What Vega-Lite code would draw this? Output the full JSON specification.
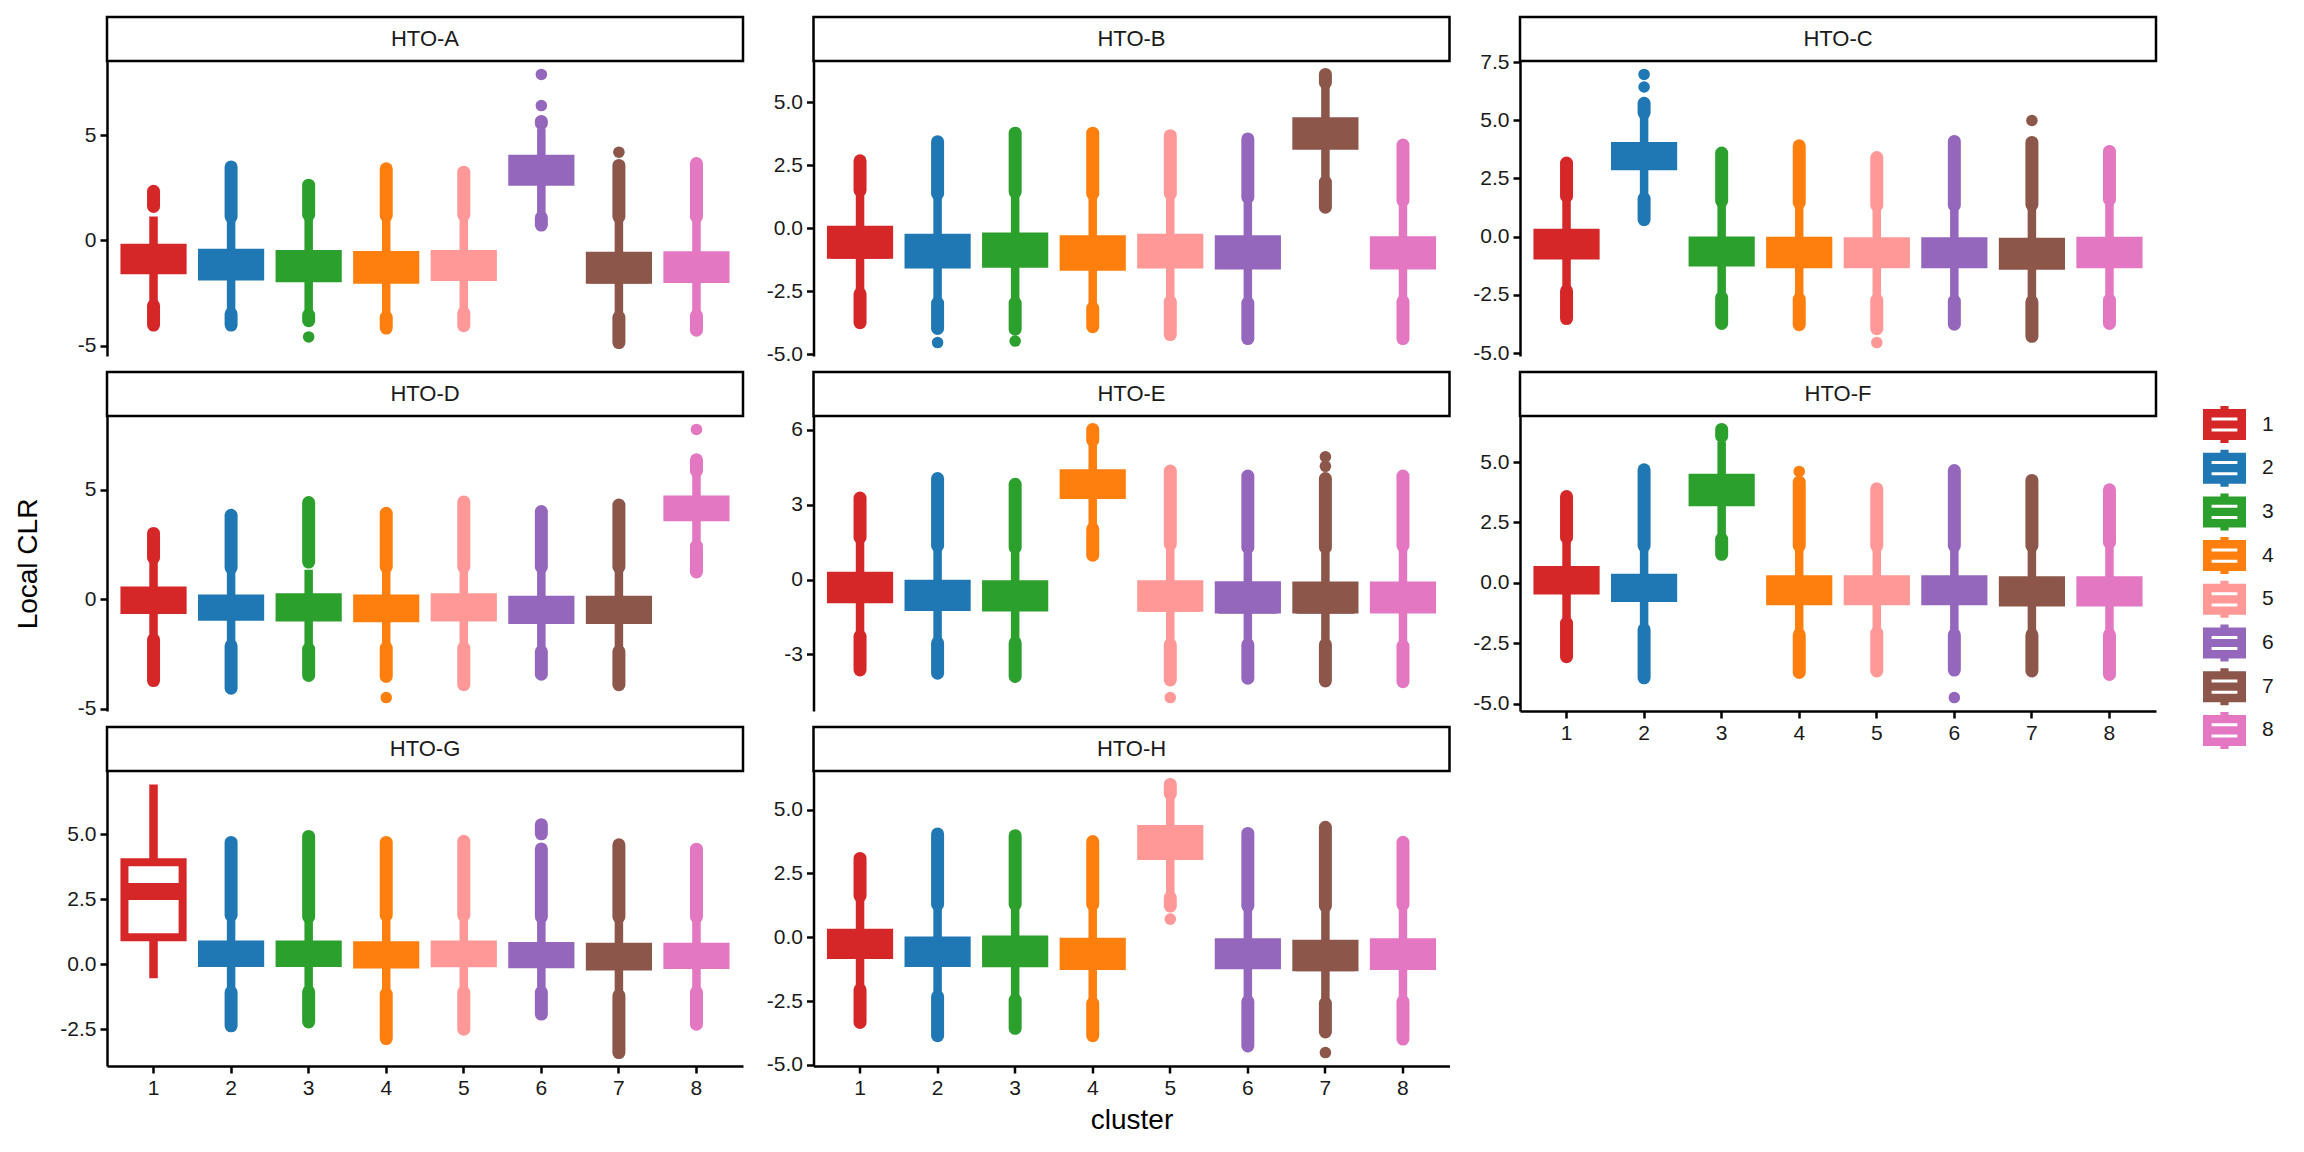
{
"$schema":"https://vega.github.io/schema/vega-lite/v6.json",
"padding":{"left":14,"top":15,"right":5,"bottom":5},
"background":"white",
"config":{
 "view":{"stroke":null},
 "font":"Liberation Sans",
 "axis":{"domainColor":"black","domainWidth":2.5,"tickColor":"black","tickWidth":2.5,"tickSize":7,"labelFontSize":21,"labelColor":"#1a1a1a","labelPadding":4,"grid":false,"titleFontSize":28,"titleFontWeight":"normal","titleColor":"black","labelFont":"Liberation Sans","titleFont":"Liberation Sans"},
 "legend":{"symbolType":"M-1,-0.72L-0.19,-0.72L-0.19,-0.86L0.19,-0.86L0.19,-0.72L1,-0.72L1,0.72L0.19,0.72L0.19,0.86L-0.19,0.86L-0.19,0.72L-1,0.72ZM-0.6,-0.33L-0.6,-0.19L0.6,-0.19L0.6,-0.33ZM-0.6,0.19L-0.6,0.33L0.6,0.33L0.6,0.19Z","symbolSize":1849,"symbolStrokeWidth":0,"symbolOpacity":1,"labelFontSize":21,"labelFont":"Liberation Sans","labelColor":"#1a1a1a","labelOffset":16,"rowPadding":3.7,"padding":0}
},
"datasets":{
"boxes":[
{"hto":"HTO-A","cluster":"1","lo":-2.95,"q1":-1.42,"med":-0.9,"q3":-0.35,"hi":1.13},
{"hto":"HTO-A","cluster":"2","lo":-3.35,"q1":-1.71,"med":-1.15,"q3":-0.59,"hi":1.05},
{"hto":"HTO-A","cluster":"3","lo":-3.4,"q1":-1.79,"med":-1.53,"q3":-0.64,"hi":1.0},
{"hto":"HTO-A","cluster":"4","lo":-3.5,"q1":-1.87,"med":-1.61,"q3":-0.69,"hi":1.0},
{"hto":"HTO-A","cluster":"5","lo":-3.3,"q1":-1.74,"med":-1.5,"q3":-0.64,"hi":1.0},
{"hto":"HTO-A","cluster":"6","lo":1.2,"q1":2.79,"med":3.3,"q3":3.88,"hi":5.3},
{"hto":"HTO-A","cluster":"7","lo":-3.5,"q1":-1.87,"med":-1.64,"q3":-0.73,"hi":1.0},
{"hto":"HTO-A","cluster":"8","lo":-3.45,"q1":-1.83,"med":-1.3,"q3":-0.7,"hi":1.0},
{"hto":"HTO-B","cluster":"1","lo":-2.5,"q1":-1.04,"med":-0.87,"q3":-0.05,"hi":1.4},
{"hto":"HTO-B","cluster":"2","lo":-2.85,"q1":-1.43,"med":-1.2,"q3":-0.37,"hi":1.25},
{"hto":"HTO-B","cluster":"3","lo":-2.85,"q1":-1.4,"med":-1.17,"q3":-0.32,"hi":1.3},
{"hto":"HTO-B","cluster":"4","lo":-3.05,"q1":-1.52,"med":-1.28,"q3":-0.43,"hi":1.25},
{"hto":"HTO-B","cluster":"5","lo":-2.8,"q1":-1.43,"med":-1.2,"q3":-0.37,"hi":1.25},
{"hto":"HTO-B","cluster":"6","lo":-2.85,"q1":-1.47,"med":-1.26,"q3":-0.43,"hi":1.1},
{"hto":"HTO-B","cluster":"7","lo":1.95,"q1":3.28,"med":3.8,"q3":4.25,"hi":5.65},
{"hto":"HTO-B","cluster":"8","lo":-2.8,"q1":-1.47,"med":-1.26,"q3":-0.47,"hi":1.0},
{"hto":"HTO-C","cluster":"1","lo":-2.2,"q1":-0.81,"med":-0.4,"q3":0.17,"hi":1.6},
{"hto":"HTO-C","cluster":"2","lo":1.8,"q1":3.03,"med":3.45,"q3":3.89,"hi":5.15},
{"hto":"HTO-C","cluster":"3","lo":-2.5,"q1":-1.11,"med":-0.65,"q3":-0.16,"hi":1.4},
{"hto":"HTO-C","cluster":"4","lo":-2.55,"q1":-1.18,"med":-0.7,"q3":-0.17,"hi":1.35},
{"hto":"HTO-C","cluster":"5","lo":-2.6,"q1":-1.18,"med":-0.7,"q3":-0.2,"hi":1.25},
{"hto":"HTO-C","cluster":"6","lo":-2.65,"q1":-1.18,"med":-0.7,"q3":-0.2,"hi":1.25},
{"hto":"HTO-C","cluster":"7","lo":-2.7,"q1":-1.25,"med":-0.75,"q3":-0.22,"hi":1.25},
{"hto":"HTO-C","cluster":"8","lo":-2.6,"q1":-1.18,"med":-0.7,"q3":-0.17,"hi":1.5},
{"hto":"HTO-D","cluster":"1","lo":-1.75,"q1":-0.49,"med":-0.05,"q3":0.4,"hi":1.8},
{"hto":"HTO-D","cluster":"2","lo":-2.05,"q1":-0.8,"med":-0.4,"q3":0.03,"hi":1.3},
{"hto":"HTO-D","cluster":"3","lo":-2.2,"q1":-0.83,"med":-0.4,"q3":0.09,"hi":1.35},
{"hto":"HTO-D","cluster":"4","lo":-2.15,"q1":-0.87,"med":-0.45,"q3":0.03,"hi":1.35},
{"hto":"HTO-D","cluster":"5","lo":-2.15,"q1":-0.83,"med":-0.4,"q3":0.09,"hi":1.35},
{"hto":"HTO-D","cluster":"6","lo":-2.3,"q1":-0.95,"med":-0.5,"q3":-0.02,"hi":1.35},
{"hto":"HTO-D","cluster":"7","lo":-2.3,"q1":-0.95,"med":-0.5,"q3":-0.02,"hi":1.35},
{"hto":"HTO-D","cluster":"8","lo":2.55,"q1":3.75,"med":4.15,"q3":4.56,"hi":5.75},
{"hto":"HTO-E","cluster":"1","lo":-2.15,"q1":-0.79,"med":-0.3,"q3":0.15,"hi":1.55},
{"hto":"HTO-E","cluster":"2","lo":-2.45,"q1":-1.1,"med":-0.6,"q3":-0.17,"hi":1.25},
{"hto":"HTO-E","cluster":"3","lo":-2.45,"q1":-1.12,"med":-0.62,"q3":-0.19,"hi":1.2},
{"hto":"HTO-E","cluster":"4","lo":2.1,"q1":3.39,"med":3.8,"q3":4.26,"hi":5.5},
{"hto":"HTO-E","cluster":"5","lo":-2.5,"q1":-1.13,"med":-0.95,"q3":-0.19,"hi":1.3},
{"hto":"HTO-E","cluster":"6","lo":-2.5,"q1":-1.2,"med":-1.03,"q3":-0.23,"hi":1.2},
{"hto":"HTO-E","cluster":"7","lo":-2.5,"q1":-1.2,"med":-1.03,"q3":-0.24,"hi":1.2},
{"hto":"HTO-E","cluster":"8","lo":-2.55,"q1":-1.2,"med":-0.7,"q3":-0.24,"hi":1.25},
{"hto":"HTO-F","cluster":"1","lo":-1.55,"q1":-0.32,"med":0.1,"q3":0.53,"hi":1.75},
{"hto":"HTO-F","cluster":"2","lo":-1.85,"q1":-0.63,"med":-0.2,"q3":0.21,"hi":1.4},
{"hto":"HTO-F","cluster":"3","lo":1.9,"q1":3.33,"med":3.53,"q3":4.35,"hi":5.85},
{"hto":"HTO-F","cluster":"4","lo":-2.05,"q1":-0.76,"med":-0.3,"q3":0.15,"hi":1.4},
{"hto":"HTO-F","cluster":"5","lo":-2.0,"q1":-0.76,"med":-0.3,"q3":0.15,"hi":1.4},
{"hto":"HTO-F","cluster":"6","lo":-2.05,"q1":-0.76,"med":-0.3,"q3":0.15,"hi":1.4},
{"hto":"HTO-F","cluster":"7","lo":-2.05,"q1":-0.81,"med":-0.35,"q3":0.11,"hi":1.4},
{"hto":"HTO-F","cluster":"8","lo":-2.05,"q1":-0.81,"med":-0.35,"q3":0.11,"hi":1.55},
{"hto":"HTO-G","cluster":"1","lo":-0.54,"q1":1.03,"med":2.79,"q3":3.92,"hi":6.91},
{"hto":"HTO-G","cluster":"2","lo":-0.95,"q1":0.04,"med":0.4,"q3":0.76,"hi":1.75},
{"hto":"HTO-G","cluster":"3","lo":-0.95,"q1":0.04,"med":0.4,"q3":0.76,"hi":1.7},
{"hto":"HTO-G","cluster":"4","lo":-1.0,"q1":-0.01,"med":0.35,"q3":0.73,"hi":1.75},
{"hto":"HTO-G","cluster":"5","lo":-0.95,"q1":0.03,"med":0.4,"q3":0.76,"hi":1.75},
{"hto":"HTO-G","cluster":"6","lo":-0.95,"q1":0.0,"med":0.35,"q3":0.7,"hi":1.7},
{"hto":"HTO-G","cluster":"7","lo":-1.1,"q1":-0.09,"med":0.3,"q3":0.67,"hi":1.7},
{"hto":"HTO-G","cluster":"8","lo":-0.95,"q1":-0.03,"med":0.33,"q3":0.67,"hi":1.7},
{"hto":"HTO-H","cluster":"1","lo":-1.95,"q1":-0.7,"med":-0.25,"q3":0.18,"hi":1.5},
{"hto":"HTO-H","cluster":"2","lo":-2.2,"q1":-1.01,"med":-0.55,"q3":-0.13,"hi":1.2},
{"hto":"HTO-H","cluster":"3","lo":-2.35,"q1":-1.02,"med":-0.55,"q3":-0.09,"hi":1.2},
{"hto":"HTO-H","cluster":"4","lo":-2.45,"q1":-1.13,"med":-0.95,"q3":-0.18,"hi":1.2},
{"hto":"HTO-H","cluster":"5","lo":1.65,"q1":3.18,"med":4.05,"q3":4.24,"hi":5.5},
{"hto":"HTO-H","cluster":"6","lo":-2.4,"q1":-1.1,"med":-0.65,"q3":-0.2,"hi":1.1},
{"hto":"HTO-H","cluster":"7","lo":-2.45,"q1":-1.18,"med":-1.0,"q3":-0.25,"hi":1.1},
{"hto":"HTO-H","cluster":"8","lo":-2.4,"q1":-1.13,"med":-0.92,"q3":-0.2,"hi":1.2}
],
"streaks":[
{"hto":"HTO-A","cluster":"1","from":1.61,"to":2.33},{"hto":"HTO-A","cluster":"1","from":-3.09,"to":-4.02},
{"hto":"HTO-A","cluster":"2","from":1.13,"to":3.49},{"hto":"HTO-A","cluster":"2","from":-3.49,"to":-4.02},
{"hto":"HTO-A","cluster":"3","from":1.21,"to":2.62},{"hto":"HTO-A","cluster":"3","from":-3.54,"to":-3.81},
{"hto":"HTO-A","cluster":"4","from":1.18,"to":3.4},{"hto":"HTO-A","cluster":"4","from":-3.65,"to":-4.16},
{"hto":"HTO-A","cluster":"5","from":1.21,"to":3.24},{"hto":"HTO-A","cluster":"5","from":-3.44,"to":-4.05},
{"hto":"HTO-A","cluster":"6","from":5.55,"to":5.65},{"hto":"HTO-A","cluster":"6","from":1.08,"to":0.73},
{"hto":"HTO-A","cluster":"7","from":1.13,"to":3.56},{"hto":"HTO-A","cluster":"7","from":-3.65,"to":-4.85},
{"hto":"HTO-A","cluster":"8","from":1.13,"to":3.65},{"hto":"HTO-A","cluster":"8","from":-3.57,"to":-4.26},
{"hto":"HTO-B","cluster":"1","from":1.51,"to":2.68},{"hto":"HTO-B","cluster":"1","from":-2.6,"to":-3.74},
{"hto":"HTO-B","cluster":"2","from":1.38,"to":3.44},{"hto":"HTO-B","cluster":"2","from":-2.96,"to":-3.97},
{"hto":"HTO-B","cluster":"3","from":1.44,"to":3.78},{"hto":"HTO-B","cluster":"3","from":-2.96,"to":-4.0},
{"hto":"HTO-B","cluster":"4","from":1.38,"to":3.78},{"hto":"HTO-B","cluster":"4","from":-3.16,"to":-3.9},
{"hto":"HTO-B","cluster":"5","from":1.38,"to":3.68},{"hto":"HTO-B","cluster":"5","from":-2.9,"to":-4.21},
{"hto":"HTO-B","cluster":"6","from":1.24,"to":3.55},{"hto":"HTO-B","cluster":"6","from":-2.96,"to":-4.37},
{"hto":"HTO-B","cluster":"7","from":5.78,"to":6.11},{"hto":"HTO-B","cluster":"7","from":1.84,"to":0.84},
{"hto":"HTO-B","cluster":"8","from":1.11,"to":3.31},{"hto":"HTO-B","cluster":"8","from":-2.9,"to":-4.37},
{"hto":"HTO-C","cluster":"1","from":1.74,"to":3.16},{"hto":"HTO-C","cluster":"1","from":-2.33,"to":-3.52},
{"hto":"HTO-C","cluster":"2","from":5.32,"to":5.73},{"hto":"HTO-C","cluster":"2","from":1.64,"to":0.73},
{"hto":"HTO-C","cluster":"3","from":1.53,"to":3.59},{"hto":"HTO-C","cluster":"3","from":-2.62,"to":-3.73},
{"hto":"HTO-C","cluster":"4","from":1.46,"to":3.9},{"hto":"HTO-C","cluster":"4","from":-2.68,"to":-3.78},
{"hto":"HTO-C","cluster":"5","from":1.35,"to":3.4},{"hto":"HTO-C","cluster":"5","from":-2.72,"to":-3.95},
{"hto":"HTO-C","cluster":"6","from":1.35,"to":4.09},{"hto":"HTO-C","cluster":"6","from":-2.77,"to":-3.76},
{"hto":"HTO-C","cluster":"7","from":1.38,"to":4.05},{"hto":"HTO-C","cluster":"7","from":-2.8,"to":-4.28},
{"hto":"HTO-C","cluster":"8","from":1.6,"to":3.66},{"hto":"HTO-C","cluster":"8","from":-2.72,"to":-3.73},
{"hto":"HTO-D","cluster":"1","from":1.9,"to":3.01},{"hto":"HTO-D","cluster":"1","from":-1.85,"to":-3.72},
{"hto":"HTO-D","cluster":"2","from":1.44,"to":3.84},{"hto":"HTO-D","cluster":"2","from":-2.13,"to":-4.07},
{"hto":"HTO-D","cluster":"3","from":1.7,"to":4.42},{"hto":"HTO-D","cluster":"3","from":-2.28,"to":-3.49},
{"hto":"HTO-D","cluster":"4","from":1.48,"to":3.93},{"hto":"HTO-D","cluster":"4","from":-2.23,"to":-3.53},
{"hto":"HTO-D","cluster":"5","from":1.48,"to":4.45},{"hto":"HTO-D","cluster":"5","from":-2.23,"to":-3.91},
{"hto":"HTO-D","cluster":"6","from":1.48,"to":4.01},{"hto":"HTO-D","cluster":"6","from":-2.39,"to":-3.43},
{"hto":"HTO-D","cluster":"7","from":1.48,"to":4.31},{"hto":"HTO-D","cluster":"7","from":-2.39,"to":-3.91},
{"hto":"HTO-D","cluster":"8","from":5.87,"to":6.38},{"hto":"HTO-D","cluster":"8","from":2.43,"to":1.25},
{"hto":"HTO-E","cluster":"1","from":1.69,"to":3.27},{"hto":"HTO-E","cluster":"1","from":-2.27,"to":-3.62},
{"hto":"HTO-E","cluster":"2","from":1.36,"to":4.05},{"hto":"HTO-E","cluster":"2","from":-2.54,"to":-3.75},
{"hto":"HTO-E","cluster":"3","from":1.29,"to":3.82},{"hto":"HTO-E","cluster":"3","from":-2.54,"to":-3.88},
{"hto":"HTO-E","cluster":"4","from":5.59,"to":6.02},{"hto":"HTO-E","cluster":"4","from":2.03,"to":0.98},
{"hto":"HTO-E","cluster":"5","from":1.42,"to":4.35},{"hto":"HTO-E","cluster":"5","from":-2.61,"to":-4.02},
{"hto":"HTO-E","cluster":"6","from":1.29,"to":4.15},{"hto":"HTO-E","cluster":"6","from":-2.61,"to":-3.95},
{"hto":"HTO-E","cluster":"7","from":1.29,"to":4.05},{"hto":"HTO-E","cluster":"7","from":-2.61,"to":-4.06},
{"hto":"HTO-E","cluster":"8","from":1.36,"to":4.15},{"hto":"HTO-E","cluster":"8","from":-2.67,"to":-4.09},
{"hto":"HTO-F","cluster":"1","from":1.88,"to":3.57},{"hto":"HTO-F","cluster":"1","from":-1.67,"to":-3.06},
{"hto":"HTO-F","cluster":"2","from":1.53,"to":4.68},{"hto":"HTO-F","cluster":"2","from":-1.94,"to":-3.93},
{"hto":"HTO-F","cluster":"3","from":6.07,"to":6.35},{"hto":"HTO-F","cluster":"3","from":1.81,"to":1.18},
{"hto":"HTO-F","cluster":"4","from":1.53,"to":4.17},{"hto":"HTO-F","cluster":"4","from":-2.15,"to":-3.71},
{"hto":"HTO-F","cluster":"5","from":1.53,"to":3.89},{"hto":"HTO-F","cluster":"5","from":-2.08,"to":-3.65},
{"hto":"HTO-F","cluster":"6","from":1.53,"to":4.65},{"hto":"HTO-F","cluster":"6","from":-2.15,"to":-3.61},
{"hto":"HTO-F","cluster":"7","from":1.53,"to":4.24},{"hto":"HTO-F","cluster":"7","from":-2.15,"to":-3.65},
{"hto":"HTO-F","cluster":"8","from":1.67,"to":3.85},{"hto":"HTO-F","cluster":"8","from":-2.15,"to":-3.79},
{"hto":"HTO-G","cluster":"2","from":1.88,"to":4.68},{"hto":"HTO-G","cluster":"2","from":-1.08,"to":-2.37},
{"hto":"HTO-G","cluster":"3","from":1.82,"to":4.91},{"hto":"HTO-G","cluster":"3","from":-1.06,"to":-2.22},
{"hto":"HTO-G","cluster":"4","from":1.88,"to":4.68},{"hto":"HTO-G","cluster":"4","from":-1.15,"to":-2.86},
{"hto":"HTO-G","cluster":"5","from":1.88,"to":4.72},{"hto":"HTO-G","cluster":"5","from":-1.08,"to":-2.5},
{"hto":"HTO-G","cluster":"6","from":1.82,"to":4.43},{"hto":"HTO-G","cluster":"6","from":5.01,"to":5.36},{"hto":"HTO-G","cluster":"6","from":-1.08,"to":-1.92},
{"hto":"HTO-G","cluster":"7","from":1.82,"to":4.59},{"hto":"HTO-G","cluster":"7","from":-1.21,"to":-3.4},
{"hto":"HTO-G","cluster":"8","from":1.82,"to":4.42},{"hto":"HTO-G","cluster":"8","from":-1.08,"to":-2.31},
{"hto":"HTO-H","cluster":"1","from":1.62,"to":3.09},{"hto":"HTO-H","cluster":"1","from":-2.06,"to":-3.34},
{"hto":"HTO-H","cluster":"2","from":1.29,"to":4.05},{"hto":"HTO-H","cluster":"2","from":-2.33,"to":-3.86},
{"hto":"HTO-H","cluster":"3","from":1.29,"to":3.98},{"hto":"HTO-H","cluster":"3","from":-2.46,"to":-3.57},
{"hto":"HTO-H","cluster":"4","from":1.29,"to":3.75},{"hto":"HTO-H","cluster":"4","from":-2.59,"to":-3.86},
{"hto":"HTO-H","cluster":"5","from":5.62,"to":5.99},{"hto":"HTO-H","cluster":"5","from":1.55,"to":1.22},
{"hto":"HTO-H","cluster":"6","from":1.22,"to":4.07},{"hto":"HTO-H","cluster":"6","from":-2.52,"to":-4.26},
{"hto":"HTO-H","cluster":"7","from":1.22,"to":4.31},{"hto":"HTO-H","cluster":"7","from":-2.59,"to":-3.71},
{"hto":"HTO-H","cluster":"8","from":1.29,"to":3.72},{"hto":"HTO-H","cluster":"8","from":-2.52,"to":-3.99}
],
"points":[
{"hto":"HTO-A","cluster":"3","value":-4.58},{"hto":"HTO-A","cluster":"6","value":6.4},{"hto":"HTO-A","cluster":"6","value":7.88},{"hto":"HTO-A","cluster":"7","value":4.19},
{"hto":"HTO-B","cluster":"2","value":-4.53},{"hto":"HTO-B","cluster":"3","value":-4.47},
{"hto":"HTO-C","cluster":"2","value":6.43},{"hto":"HTO-C","cluster":"2","value":6.97},{"hto":"HTO-C","cluster":"5","value":-4.55},{"hto":"HTO-C","cluster":"7","value":4.99},
{"hto":"HTO-D","cluster":"4","value":-4.5},{"hto":"HTO-D","cluster":"8","value":7.77},
{"hto":"HTO-E","cluster":"5","value":-4.73},{"hto":"HTO-E","cluster":"7","value":4.54},{"hto":"HTO-E","cluster":"7","value":4.92},
{"hto":"HTO-F","cluster":"4","value":4.61},{"hto":"HTO-F","cluster":"6","value":-4.75},
{"hto":"HTO-H","cluster":"5","value":0.71},{"hto":"HTO-H","cluster":"7","value":-4.52}
]
},
"columns":3,
"align":"each",
"bounds":"flush",
"spacing":{"row":0,"column":70.5},
"concat":[
  {"width":636,"height":44,"view":{"stroke":"black","strokeWidth":2.5,"fill":"white"},"data":{"values":[{"label":"HTO-A"}]},"mark":{"type":"text","fontSize":22,"color":"#1a1a1a","font":"Liberation Sans"},"encoding":{"text":{"field":"label","type":"nominal"}}},
  {"width":636,"height":44,"view":{"stroke":"black","strokeWidth":2.5,"fill":"white"},"data":{"values":[{"label":"HTO-B"}]},"mark":{"type":"text","fontSize":22,"color":"#1a1a1a","font":"Liberation Sans"},"encoding":{"text":{"field":"label","type":"nominal"}}},
  {"width":636,"height":44,"view":{"stroke":"black","strokeWidth":2.5,"fill":"white"},"data":{"values":[{"label":"HTO-C"}]},"mark":{"type":"text","fontSize":22,"color":"#1a1a1a","font":"Liberation Sans"},"encoding":{"text":{"field":"label","type":"nominal"}}},
  {"width":636,"height":295,
   "encoding":{"x":{"field":"cluster","type":"nominal","scale":{"type":"band","domain":["1","2","3","4","5","6","7","8"],"paddingInner":0,"paddingOuter":0.1},"axis":null}},
   "layer":[
    {"data":{"name":"boxes"},"transform":[{"filter":"datum.hto==='HTO-A'"}],"mark":{"type":"rule","strokeWidth":8.5},"encoding":{"y":{"field":"lo","type":"quantitative","scale":{"zero":false,"nice":false,"padding":13.4},"axis":{"title":null,"values":[-5,0,5],"labelExpr":"replace(format(datum.value,'d'),'\u2212','-')"}},"y2":{"field":"hi"},"stroke":{"field":"cluster","type":"nominal","scale":{"range":["#d62728","#1f77b4","#2ca02c","#ff7f0e","#ff9896","#9467bd","#8c564b","#e377c2"]},"legend":null}}},
    {"data":{"name":"streaks"},"transform":[{"filter":"datum.hto==='HTO-A'"}],"mark":{"type":"rule","strokeWidth":13,"strokeCap":"round"},"encoding":{"y":{"field":"from","type":"quantitative"},"y2":{"field":"to"},"stroke":{"field":"cluster","type":"nominal","legend":null}}},
    {"data":{"name":"points"},"transform":[{"filter":"datum.hto==='HTO-A'"}],"mark":{"type":"circle","size":133,"opacity":1},"encoding":{"y":{"field":"value","type":"quantitative"},"color":{"field":"cluster","type":"nominal","scale":{"domain":["1","2","3","4","5","6","7","8"],"range":["#d62728","#1f77b4","#2ca02c","#ff7f0e","#ff9896","#9467bd","#8c564b","#e377c2"]},"legend":{"title":null,"orient":"none","legendX":2096,"legendY":386}}}},
    {"data":{"name":"boxes"},"transform":[{"filter":"datum.hto==='HTO-A'"}],"mark":{"type":"bar","width":{"band":0.75},"strokeWidth":8,"strokeJoin":"miter"},"encoding":{"y":{"field":"q1","type":"quantitative"},"y2":{"field":"q3"},"fill":{"field":"cluster","type":"nominal","scale":{"range":["#d62728","#1f77b4","#2ca02c","#ff7f0e","#ff9896","#9467bd","#8c564b","#e377c2"]},"legend":null},"stroke":{"field":"cluster","type":"nominal","legend":null}}},
    {"data":{"name":"boxes"},"transform":[{"filter":"datum.hto==='HTO-A'"}],"mark":{"type":"tick","thickness":17,"size":58,"opacity":1,"orient":"horizontal","filled":true},"encoding":{"y":{"field":"med","type":"quantitative"},"fill":{"field":"cluster","type":"nominal","legend":null}}}
   ]},
  {"width":636,"height":295,
   "encoding":{"x":{"field":"cluster","type":"nominal","scale":{"type":"band","domain":["1","2","3","4","5","6","7","8"],"paddingInner":0,"paddingOuter":0.1},"axis":null}},
   "layer":[
    {"data":{"name":"boxes"},"transform":[{"filter":"datum.hto==='HTO-B'"}],"mark":{"type":"rule","strokeWidth":8.5},"encoding":{"y":{"field":"lo","type":"quantitative","scale":{"zero":false,"nice":false,"padding":13.4},"axis":{"title":null,"values":[-5,-2.5,0,2.5,5],"labelExpr":"replace(format(datum.value,'.1f'),'\u2212','-')"}},"y2":{"field":"hi"},"stroke":{"field":"cluster","type":"nominal","legend":null}}},
    {"data":{"name":"streaks"},"transform":[{"filter":"datum.hto==='HTO-B'"}],"mark":{"type":"rule","strokeWidth":13,"strokeCap":"round"},"encoding":{"y":{"field":"from","type":"quantitative"},"y2":{"field":"to"},"stroke":{"field":"cluster","type":"nominal","legend":null}}},
    {"data":{"name":"points"},"transform":[{"filter":"datum.hto==='HTO-B'"}],"mark":{"type":"circle","size":133,"opacity":1},"encoding":{"y":{"field":"value","type":"quantitative"},"color":{"field":"cluster","type":"nominal","legend":{"title":null,"orient":"none","legendX":2096,"legendY":386}}}},
    {"data":{"name":"boxes"},"transform":[{"filter":"datum.hto==='HTO-B'"}],"mark":{"type":"bar","width":{"band":0.75},"strokeWidth":8,"strokeJoin":"miter"},"encoding":{"y":{"field":"q1","type":"quantitative"},"y2":{"field":"q3"},"fill":{"field":"cluster","type":"nominal","legend":null},"stroke":{"field":"cluster","type":"nominal","legend":null}}},
    {"data":{"name":"boxes"},"transform":[{"filter":"datum.hto==='HTO-B'"}],"mark":{"type":"tick","thickness":17,"size":58,"opacity":1,"orient":"horizontal","filled":true},"encoding":{"y":{"field":"med","type":"quantitative"},"fill":{"field":"cluster","type":"nominal","legend":null}}}
   ]},
  {"width":636,"height":295,
   "encoding":{"x":{"field":"cluster","type":"nominal","scale":{"type":"band","domain":["1","2","3","4","5","6","7","8"],"paddingInner":0,"paddingOuter":0.1},"axis":null}},
   "layer":[
    {"data":{"name":"boxes"},"transform":[{"filter":"datum.hto==='HTO-C'"}],"mark":{"type":"rule","strokeWidth":8.5},"encoding":{"y":{"field":"lo","type":"quantitative","scale":{"zero":false,"nice":false,"padding":13.4},"axis":{"title":null,"values":[-5,-2.5,0,2.5,5,7.5],"labelExpr":"replace(format(datum.value,'.1f'),'\u2212','-')"}},"y2":{"field":"hi"},"stroke":{"field":"cluster","type":"nominal","legend":null}}},
    {"data":{"name":"streaks"},"transform":[{"filter":"datum.hto==='HTO-C'"}],"mark":{"type":"rule","strokeWidth":13,"strokeCap":"round"},"encoding":{"y":{"field":"from","type":"quantitative"},"y2":{"field":"to"},"stroke":{"field":"cluster","type":"nominal","legend":null}}},
    {"data":{"name":"points"},"transform":[{"filter":"datum.hto==='HTO-C'"}],"mark":{"type":"circle","size":133,"opacity":1},"encoding":{"y":{"field":"value","type":"quantitative"},"color":{"field":"cluster","type":"nominal","legend":{"title":null,"orient":"none","legendX":2096,"legendY":386}}}},
    {"data":{"name":"boxes"},"transform":[{"filter":"datum.hto==='HTO-C'"}],"mark":{"type":"bar","width":{"band":0.75},"strokeWidth":8,"strokeJoin":"miter"},"encoding":{"y":{"field":"q1","type":"quantitative"},"y2":{"field":"q3"},"fill":{"field":"cluster","type":"nominal","legend":null},"stroke":{"field":"cluster","type":"nominal","legend":null}}},
    {"data":{"name":"boxes"},"transform":[{"filter":"datum.hto==='HTO-C'"}],"mark":{"type":"tick","thickness":17,"size":58,"opacity":1,"orient":"horizontal","filled":true},"encoding":{"y":{"field":"med","type":"quantitative"},"fill":{"field":"cluster","type":"nominal","legend":null}}}
   ]},
  {"width":636,"height":16,"data":{"values":[{"t":""}]},"mark":{"type":"text"},"encoding":{"text":{"field":"t","type":"nominal"}}},
  {"width":636,"height":16,"data":{"values":[{"t":""}]},"mark":{"type":"text"},"encoding":{"text":{"field":"t","type":"nominal"}}},
  {"width":636,"height":16,"data":{"values":[{"t":""}]},"mark":{"type":"text"},"encoding":{"text":{"field":"t","type":"nominal"}}},
  {"width":636,"height":44,"view":{"stroke":"black","strokeWidth":2.5,"fill":"white"},"data":{"values":[{"label":"HTO-D"}]},"mark":{"type":"text","fontSize":22,"color":"#1a1a1a","font":"Liberation Sans"},"encoding":{"text":{"field":"label","type":"nominal"}}},
  {"width":636,"height":44,"view":{"stroke":"black","strokeWidth":2.5,"fill":"white"},"data":{"values":[{"label":"HTO-E"}]},"mark":{"type":"text","fontSize":22,"color":"#1a1a1a","font":"Liberation Sans"},"encoding":{"text":{"field":"label","type":"nominal"}}},
  {"width":636,"height":44,"view":{"stroke":"black","strokeWidth":2.5,"fill":"white"},"data":{"values":[{"label":"HTO-F"}]},"mark":{"type":"text","fontSize":22,"color":"#1a1a1a","font":"Liberation Sans"},"encoding":{"text":{"field":"label","type":"nominal"}}},
  {"width":636,"height":295,
   "encoding":{"x":{"field":"cluster","type":"nominal","scale":{"type":"band","domain":["1","2","3","4","5","6","7","8"],"paddingInner":0,"paddingOuter":0.1},"axis":null}},
   "layer":[
    {"data":{"name":"boxes"},"transform":[{"filter":"datum.hto==='HTO-D'"}],"mark":{"type":"rule","strokeWidth":8.5},"encoding":{"y":{"field":"lo","type":"quantitative","scale":{"zero":false,"nice":false,"padding":13.4},"axis":{"title":"Local CLR","titlePadding":35,"values":[-5,0,5],"labelExpr":"replace(format(datum.value,'d'),'\u2212','-')"}},"y2":{"field":"hi"},"stroke":{"field":"cluster","type":"nominal","legend":null}}},
    {"data":{"name":"streaks"},"transform":[{"filter":"datum.hto==='HTO-D'"}],"mark":{"type":"rule","strokeWidth":13,"strokeCap":"round"},"encoding":{"y":{"field":"from","type":"quantitative"},"y2":{"field":"to"},"stroke":{"field":"cluster","type":"nominal","legend":null}}},
    {"data":{"name":"points"},"transform":[{"filter":"datum.hto==='HTO-D'"}],"mark":{"type":"circle","size":133,"opacity":1},"encoding":{"y":{"field":"value","type":"quantitative"},"color":{"field":"cluster","type":"nominal","legend":{"title":null,"orient":"none","legendX":2096,"legendY":386}}}},
    {"data":{"name":"boxes"},"transform":[{"filter":"datum.hto==='HTO-D'"}],"mark":{"type":"bar","width":{"band":0.75},"strokeWidth":8,"strokeJoin":"miter"},"encoding":{"y":{"field":"q1","type":"quantitative"},"y2":{"field":"q3"},"fill":{"field":"cluster","type":"nominal","legend":null},"stroke":{"field":"cluster","type":"nominal","legend":null}}},
    {"data":{"name":"boxes"},"transform":[{"filter":"datum.hto==='HTO-D'"}],"mark":{"type":"tick","thickness":17,"size":58,"opacity":1,"orient":"horizontal","filled":true},"encoding":{"y":{"field":"med","type":"quantitative"},"fill":{"field":"cluster","type":"nominal","legend":null}}}
   ]},
  {"width":636,"height":295,
   "encoding":{"x":{"field":"cluster","type":"nominal","scale":{"type":"band","domain":["1","2","3","4","5","6","7","8"],"paddingInner":0,"paddingOuter":0.1},"axis":null}},
   "layer":[
    {"data":{"name":"boxes"},"transform":[{"filter":"datum.hto==='HTO-E'"}],"mark":{"type":"rule","strokeWidth":8.5},"encoding":{"y":{"field":"lo","type":"quantitative","scale":{"zero":false,"nice":false,"padding":13.4},"axis":{"title":null,"values":[-3,0,3,6],"labelExpr":"replace(format(datum.value,'d'),'\u2212','-')"}},"y2":{"field":"hi"},"stroke":{"field":"cluster","type":"nominal","legend":null}}},
    {"data":{"name":"streaks"},"transform":[{"filter":"datum.hto==='HTO-E'"}],"mark":{"type":"rule","strokeWidth":13,"strokeCap":"round"},"encoding":{"y":{"field":"from","type":"quantitative"},"y2":{"field":"to"},"stroke":{"field":"cluster","type":"nominal","legend":null}}},
    {"data":{"name":"points"},"transform":[{"filter":"datum.hto==='HTO-E'"}],"mark":{"type":"circle","size":133,"opacity":1},"encoding":{"y":{"field":"value","type":"quantitative"},"color":{"field":"cluster","type":"nominal","legend":{"title":null,"orient":"none","legendX":2096,"legendY":386}}}},
    {"data":{"name":"boxes"},"transform":[{"filter":"datum.hto==='HTO-E'"}],"mark":{"type":"bar","width":{"band":0.75},"strokeWidth":8,"strokeJoin":"miter"},"encoding":{"y":{"field":"q1","type":"quantitative"},"y2":{"field":"q3"},"fill":{"field":"cluster","type":"nominal","legend":null},"stroke":{"field":"cluster","type":"nominal","legend":null}}},
    {"data":{"name":"boxes"},"transform":[{"filter":"datum.hto==='HTO-E'"}],"mark":{"type":"tick","thickness":17,"size":58,"opacity":1,"orient":"horizontal","filled":true},"encoding":{"y":{"field":"med","type":"quantitative"},"fill":{"field":"cluster","type":"nominal","legend":null}}}
   ]},
  {"width":636,"height":295,
   "encoding":{"x":{"field":"cluster","type":"nominal","scale":{"type":"band","domain":["1","2","3","4","5","6","7","8"],"paddingInner":0,"paddingOuter":0.1},"axis":{"title":null,"labelAngle":0}}},
   "layer":[
    {"data":{"name":"boxes"},"transform":[{"filter":"datum.hto==='HTO-F'"}],"mark":{"type":"rule","strokeWidth":8.5},"encoding":{"y":{"field":"lo","type":"quantitative","scale":{"zero":false,"nice":false,"padding":13.4},"axis":{"title":null,"values":[-5,-2.5,0,2.5,5],"labelExpr":"replace(format(datum.value,'.1f'),'\u2212','-')"}},"y2":{"field":"hi"},"stroke":{"field":"cluster","type":"nominal","legend":null}}},
    {"data":{"name":"streaks"},"transform":[{"filter":"datum.hto==='HTO-F'"}],"mark":{"type":"rule","strokeWidth":13,"strokeCap":"round"},"encoding":{"y":{"field":"from","type":"quantitative"},"y2":{"field":"to"},"stroke":{"field":"cluster","type":"nominal","legend":null}}},
    {"data":{"name":"points"},"transform":[{"filter":"datum.hto==='HTO-F'"}],"mark":{"type":"circle","size":133,"opacity":1},"encoding":{"y":{"field":"value","type":"quantitative"},"color":{"field":"cluster","type":"nominal","legend":{"title":null,"orient":"none","legendX":2096,"legendY":386}}}},
    {"data":{"name":"boxes"},"transform":[{"filter":"datum.hto==='HTO-F'"}],"mark":{"type":"bar","width":{"band":0.75},"strokeWidth":8,"strokeJoin":"miter"},"encoding":{"y":{"field":"q1","type":"quantitative"},"y2":{"field":"q3"},"fill":{"field":"cluster","type":"nominal","legend":null},"stroke":{"field":"cluster","type":"nominal","legend":null}}},
    {"data":{"name":"boxes"},"transform":[{"filter":"datum.hto==='HTO-F'"}],"mark":{"type":"tick","thickness":17,"size":58,"opacity":1,"orient":"horizontal","filled":true},"encoding":{"y":{"field":"med","type":"quantitative"},"fill":{"field":"cluster","type":"nominal","legend":null}}}
   ]},
  {"width":636,"height":16,"data":{"values":[{"t":""}]},"mark":{"type":"text"},"encoding":{"text":{"field":"t","type":"nominal"}}},
  {"width":636,"height":16,"data":{"values":[{"t":""}]},"mark":{"type":"text"},"encoding":{"text":{"field":"t","type":"nominal"}}},
  {"width":636,"height":16,"data":{"values":[{"t":""}]},"mark":{"type":"text"},"encoding":{"text":{"field":"t","type":"nominal"}}},
  {"width":636,"height":44,"view":{"stroke":"black","strokeWidth":2.5,"fill":"white"},"data":{"values":[{"label":"HTO-G"}]},"mark":{"type":"text","fontSize":22,"color":"#1a1a1a","font":"Liberation Sans"},"encoding":{"text":{"field":"label","type":"nominal"}}},
  {"width":636,"height":44,"view":{"stroke":"black","strokeWidth":2.5,"fill":"white"},"data":{"values":[{"label":"HTO-H"}]},"mark":{"type":"text","fontSize":22,"color":"#1a1a1a","font":"Liberation Sans"},"encoding":{"text":{"field":"label","type":"nominal"}}},
  {"width":636,"height":44,"data":{"values":[{"t":""}]},"mark":{"type":"text"},"encoding":{"text":{"field":"t","type":"nominal"}}},
  {"width":636,"height":295,
   "encoding":{"x":{"field":"cluster","type":"nominal","scale":{"type":"band","domain":["1","2","3","4","5","6","7","8"],"paddingInner":0,"paddingOuter":0.1},"axis":{"title":null,"labelAngle":0}}},
   "layer":[
    {"data":{"name":"boxes"},"transform":[{"filter":"datum.hto==='HTO-G'"}],"mark":{"type":"rule","strokeWidth":8.5},"encoding":{"y":{"field":"lo","type":"quantitative","scale":{"zero":false,"nice":false,"padding":13.4},"axis":{"title":null,"values":[-2.5,0,2.5,5],"labelExpr":"replace(format(datum.value,'.1f'),'\u2212','-')"}},"y2":{"field":"hi"},"stroke":{"field":"cluster","type":"nominal","legend":null}}},
    {"data":{"name":"streaks"},"transform":[{"filter":"datum.hto==='HTO-G'"}],"mark":{"type":"rule","strokeWidth":13,"strokeCap":"round"},"encoding":{"y":{"field":"from","type":"quantitative"},"y2":{"field":"to"},"stroke":{"field":"cluster","type":"nominal","legend":null}}},
    {"data":{"name":"points"},"transform":[{"filter":"datum.hto==='HTO-G'"}],"mark":{"type":"circle","size":133,"opacity":1},"encoding":{"y":{"field":"value","type":"quantitative"},"color":{"field":"cluster","type":"nominal","legend":{"title":null,"orient":"none","legendX":2096,"legendY":386}}}},
    {"data":{"name":"boxes"},"transform":[{"filter":"datum.hto==='HTO-G'"}],"mark":{"type":"bar","width":{"band":0.75},"strokeWidth":8,"strokeJoin":"miter"},"encoding":{"y":{"field":"q1","type":"quantitative"},"y2":{"field":"q3"},"fill":{"condition":{"test":"datum.cluster==='1'","value":"white"},"field":"cluster","type":"nominal","legend":null},"stroke":{"field":"cluster","type":"nominal","legend":null}}},
    {"data":{"name":"boxes"},"transform":[{"filter":"datum.hto==='HTO-G'"}],"mark":{"type":"tick","thickness":17,"size":58,"opacity":1,"orient":"horizontal","filled":true},"encoding":{"y":{"field":"med","type":"quantitative"},"fill":{"field":"cluster","type":"nominal","legend":null}}}
   ]},
  {"width":636,"height":295,
   "encoding":{"x":{"field":"cluster","type":"nominal","scale":{"type":"band","domain":["1","2","3","4","5","6","7","8"],"paddingInner":0,"paddingOuter":0.1},"axis":{"title":"cluster","labelAngle":0,"titlePadding":8}}},
   "layer":[
    {"data":{"name":"boxes"},"transform":[{"filter":"datum.hto==='HTO-H'"}],"mark":{"type":"rule","strokeWidth":8.5},"encoding":{"y":{"field":"lo","type":"quantitative","scale":{"zero":false,"nice":false,"padding":13.4},"axis":{"title":null,"values":[-5,-2.5,0,2.5,5],"labelExpr":"replace(format(datum.value,'.1f'),'\u2212','-')"}},"y2":{"field":"hi"},"stroke":{"field":"cluster","type":"nominal","legend":null}}},
    {"data":{"name":"streaks"},"transform":[{"filter":"datum.hto==='HTO-H'"}],"mark":{"type":"rule","strokeWidth":13,"strokeCap":"round"},"encoding":{"y":{"field":"from","type":"quantitative"},"y2":{"field":"to"},"stroke":{"field":"cluster","type":"nominal","legend":null}}},
    {"data":{"name":"points"},"transform":[{"filter":"datum.hto==='HTO-H'"}],"mark":{"type":"circle","size":133,"opacity":1},"encoding":{"y":{"field":"value","type":"quantitative"},"color":{"field":"cluster","type":"nominal","legend":{"title":null,"orient":"none","legendX":2096,"legendY":386}}}},
    {"data":{"name":"boxes"},"transform":[{"filter":"datum.hto==='HTO-H'"}],"mark":{"type":"bar","width":{"band":0.75},"strokeWidth":8,"strokeJoin":"miter"},"encoding":{"y":{"field":"q1","type":"quantitative"},"y2":{"field":"q3"},"fill":{"field":"cluster","type":"nominal","legend":null},"stroke":{"field":"cluster","type":"nominal","legend":null}}},
    {"data":{"name":"boxes"},"transform":[{"filter":"datum.hto==='HTO-H'"}],"mark":{"type":"tick","thickness":17,"size":58,"opacity":1,"orient":"horizontal","filled":true},"encoding":{"y":{"field":"med","type":"quantitative"},"fill":{"field":"cluster","type":"nominal","legend":null}}}
   ]}
]
}
